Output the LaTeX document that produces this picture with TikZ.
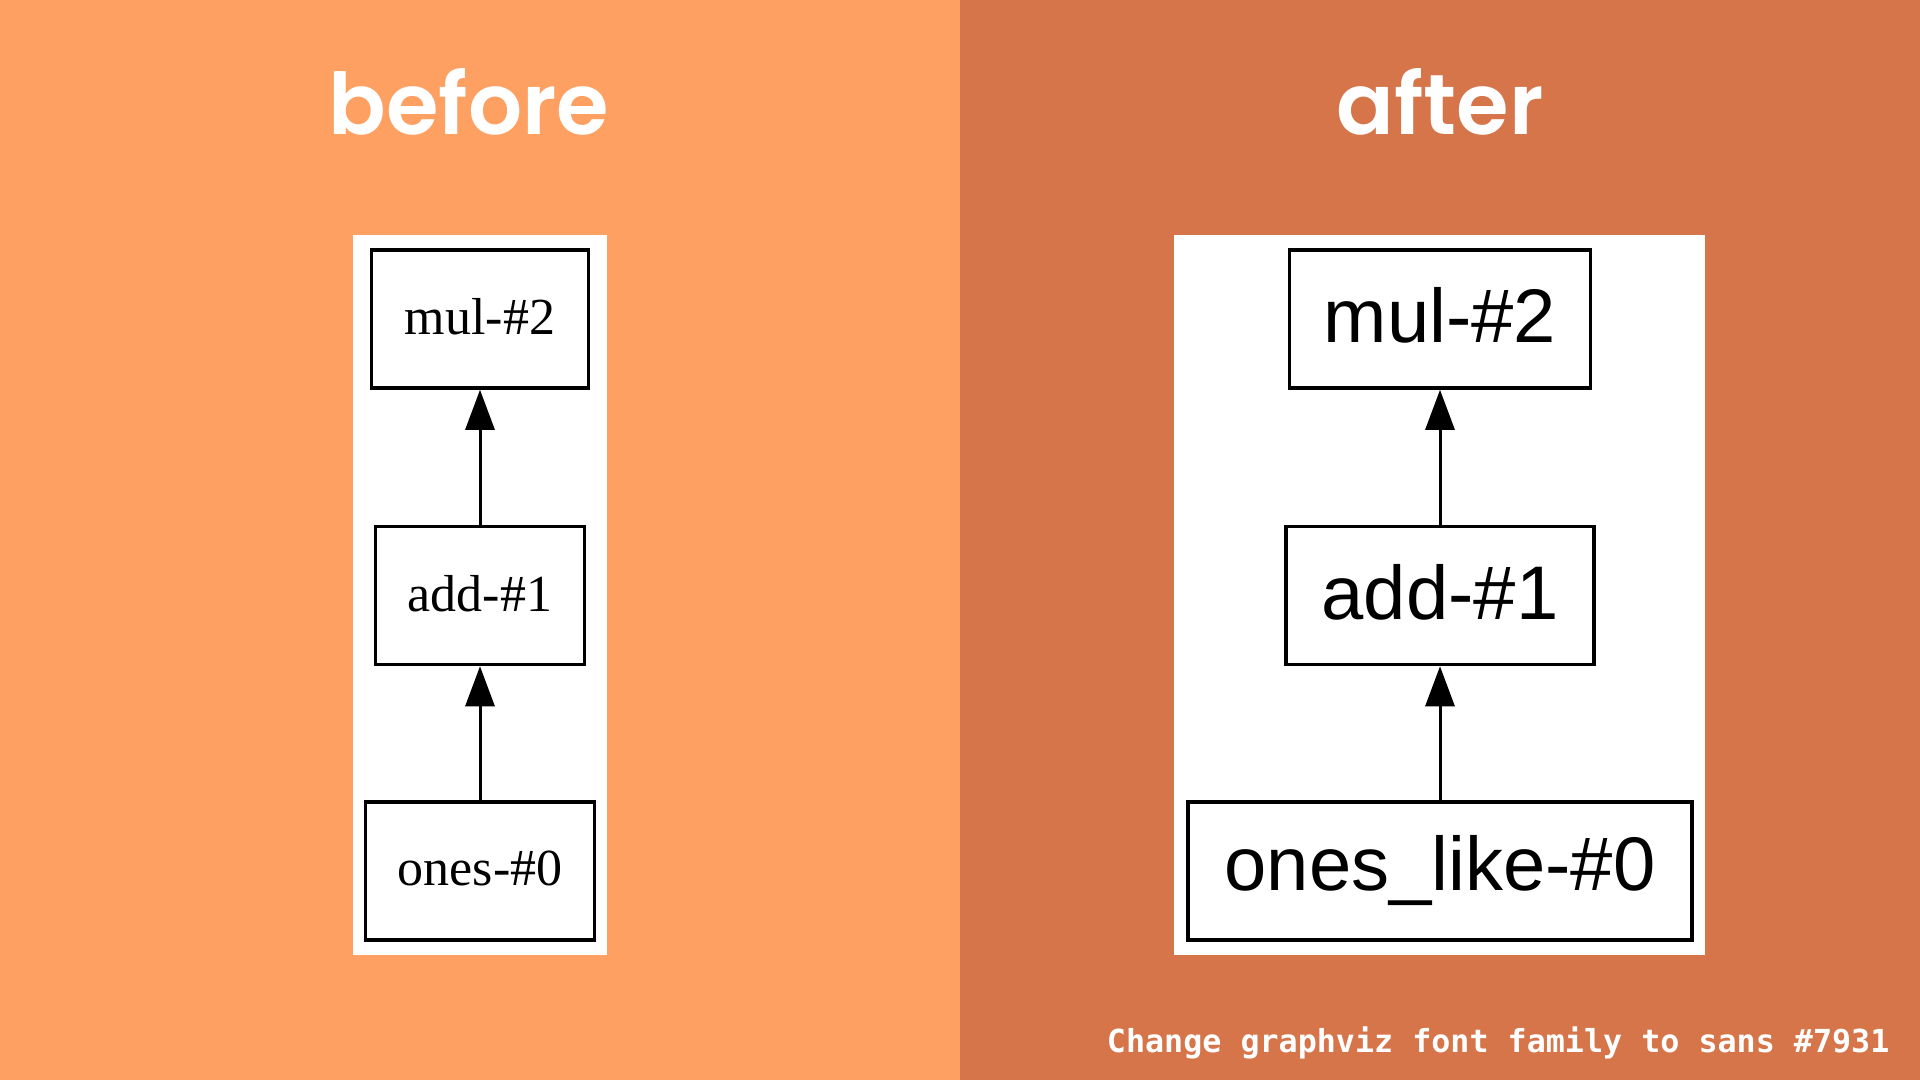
\documentclass[tikz,border=0pt]{standalone}
\usepackage{fontspec}
\setmainfont{Liberation Serif}
\newfontfamily\titlefont{Poppins SemiBold}
\newfontfamily\sansfnt{Liberation Sans}
\newfontfamily\monofnt{DejaVu Sans Mono Bold}
\usetikzlibrary{arrows.meta}
\definecolor{leftbg}{HTML}{FDA062}
\definecolor{rightbg}{HTML}{D6754A}
\tikzset{
  gbox/.style={draw=black, line width=3.5pt, fill=white, inner sep=0pt, minimum height=138pt},
  serifbox/.style={gbox, font=\fontsize{52}{60}\selectfont},
  sansbox/.style={gbox, font=\sansfnt\fontsize{76}{86}\selectfont},
  gedge/.style={line width=3pt, -{Triangle[length=40pt,width=29pt]}},
  titletext/.style={text=white, font=\titlefont\fontsize{85}{95}\selectfont},
}
\begin{document}
\begin{tikzpicture}[x=1pt,y=-1pt]
\useasboundingbox (0,0) rectangle (1920,1080);
\fill[leftbg] (0,0) rectangle (960,1080);
\fill[rightbg] (960,0) rectangle (1920,1080);
% titles
\node[titletext] (tbefore) at (469,102) {before};
\node[titletext] (tafter) at (1440,102) {after};
% white panels
\fill[white] (352.7,235) rectangle (607.3,955);
\fill[white] (1174.3,235) rectangle (1704.5,955);
% left graph
\node[serifbox, minimum width=217pt] (lmul) at (480,319) {\raisebox{5pt}{mul-\#2}};
\node[serifbox, minimum width=209pt] (ladd) at (480,595.5) {\raisebox{5pt}{add-\#1}};
\node[serifbox, minimum width=229pt] (lones) at (480,871) {\raisebox{5pt}{ones-\#0}};
\draw[gedge] (ladd.north) -- (lmul.south);
\draw[gedge] (lones.north) -- (ladd.south);
% right graph
\node[sansbox, minimum width=301pt] (rmul) at (1440,319) {\raisebox{8pt}{mul-\#2}};
\node[sansbox, minimum width=308pt] (radd) at (1440,595.5) {\raisebox{8pt}{add-\#1}};
\node[sansbox, minimum width=504pt] (rones) at (1440,871) {\raisebox{8pt}{ones\_like-\#0}};
\draw[gedge] (radd.north) -- (rmul.south);
\draw[gedge] (rones.north) -- (radd.south);
% footer
\node[text=white, font=\monofnt\fontsize{31.7}{36}\selectfont, anchor=east] (foot) at (1893,1043) {Change graphviz font family to sans \#7931};
\end{tikzpicture}
\end{document}
